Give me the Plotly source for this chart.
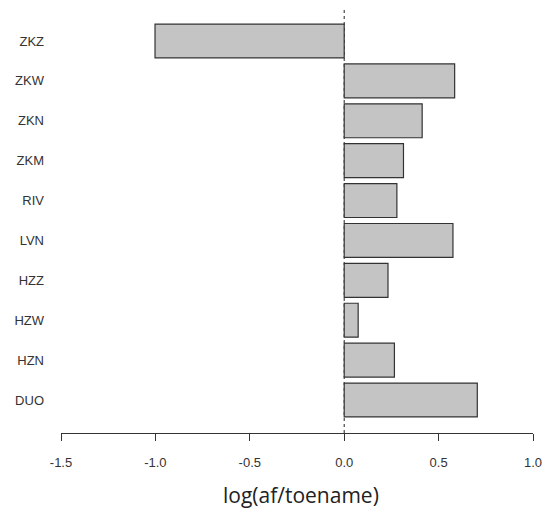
import plotly.graph_objects as go

# Regions, listed bottom to top
regions = ["DUO", "HZN", "HZW", "HZZ", "LVN", "RIV", "ZKM", "ZKN", "ZKW", "ZKZ"]
log_ratio = [0.705, 0.266, 0.074, 0.232, 0.576, 0.279, 0.314, 0.413, 0.585, -1.002]

x_ticks = [-1.5, -1.0, -0.5, 0.0, 0.5, 1.0]
x_tick_text = ["-1.5", "-1.0", "-0.5", "0.0", "0.5", "1.0"]

fig = go.Figure(
    go.Bar(
        x=log_ratio,
        y=regions,
        orientation="h",
        marker=dict(color="#c4c4c4", line=dict(color="#333333", width=1.2)),
        width=0.85,
        showlegend=False,
    )
)

# dotted reference line at zero
fig.add_shape(
    type="line", xref="x", yref="paper", x0=0, x1=0, y0=0, y1=1,
    line=dict(color="#222222", width=1, dash="dot"), layer="below",
)

fig.update_layout(
    width=550, height=512,
    margin=dict(l=61, r=11, t=8, b=79),
    plot_bgcolor="white", paper_bgcolor="white",
    font=dict(family="Liberation Sans, Arial, sans-serif", size=13, color="#333333"),
    xaxis=dict(
        range=[-1.5, 1.0], tickvals=x_ticks, ticktext=x_tick_text,
        showgrid=False, zeroline=False, showline=True, linecolor="#333333", linewidth=1,
        ticks="outside", ticklen=7, tickcolor="#333333", tickwidth=1,
        ticklabelstandoff=10,
        tickfont=dict(size=13, color="#333333"),
    ),
    yaxis=dict(
        type="category", categoryorder="array", categoryarray=regions,
        range=[-0.827, 9.827],
        showgrid=False, zeroline=False, showline=False, ticks="",
        ticklabelstandoff=16,
        tickfont=dict(size=13, color="#333333"),
    ),
    annotations=[
        dict(
            text="log(af/toename)", xref="paper", yref="paper", x=0.5, y=0,
            xshift=4, yshift=-62, showarrow=False, yanchor="middle",
            font=dict(family="Open Sans, DejaVu Sans, sans-serif", size=21, color="#222222"),
        )
    ],
)

fig.write_html("out.html")
